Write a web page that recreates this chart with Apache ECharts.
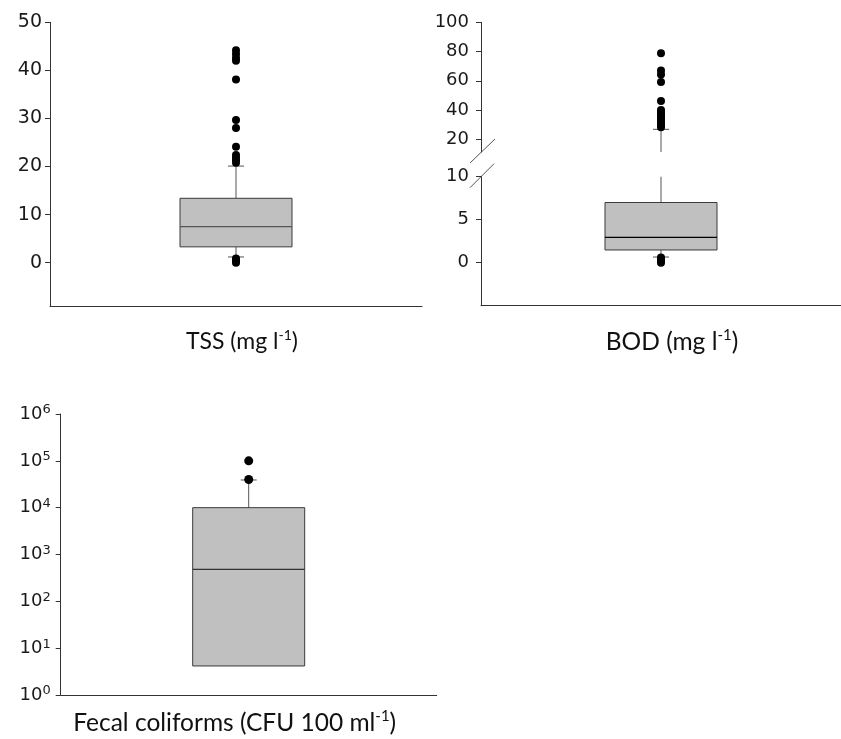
<!DOCTYPE html>
<html>
<head>
<meta charset="utf-8">
<script src="https://cdn.jsdelivr.net/npm/echarts@6/dist/echarts.min.js"></script>
<style>html,body{margin:0;padding:0;background:#fff}#c{width:841px;height:739px}</style>
</head>
<body>
<div id="c"></div>
<script>
// ---- data ----
const tssCategory = ['TSS (mg l-1)'];
const tssStats = [1.2, 3.3, 7.5, 13.4, 20.1];           // [lower whisker, Q1, median, Q3, upper whisker]
const tssOutliers = [44.2, 43.4, 42.6, 42.0, 38.1, 29.7, 28.0, 24.1, 22.4, 21.8, 21.3, 20.8, 0.9, 0.6, 0.3, 0.0];
const tssTicks = [0, 10, 20, 30, 40, 50];

const bodCategory = ['BOD (mg l-1)'];
const bodStats = [0.66, 1.48, 2.95, 7.0, 26.8];
const bodOutliers = [78.9, 67.0, 64.3, 59.2, 46.2, 40.0, 38.5, 37.0, 35.5, 34.0, 32.5, 31.0, 29.5, 28.2, 0.6, 0.4, 0.2, 0.0];
const bodUpperTicks = [20, 40, 60, 80, 100];
const bodLowerTicks = [0, 5, 10];
const bodUpperRange = [11.3, 100];
const bodLowerRange = [-5, 10];

const fcCategory = ['Fecal coliforms (CFU 100 ml-1)'];
const fcStats = [4.17, 4.17, 483, 10000, 39000];
const fcOutliers = [100000, 40000];
const fcTicks = [1, 10, 100, 1000, 10000, 100000, 1000000];

const tssRange = [-9, 50];
const fcRange = [1, 1000000];

// ---- helpers ----
const TICK_FONT = '"DejaVu Sans", "Liberation Sans", Arial, sans-serif';
const NAME_FONT = 'Lato, "Open Sans", sans-serif';

function boxRenderer(stats, yr, opt) {
  return function (params, api) {
    const lo = stats[0], q1 = stats[1], med = stats[2], q3 = stats[3], hi = stats[4];
    const clamp = v => Math.min(Math.max(v, yr[0]), yr[1]);
    const inR = v => v >= yr[0] && v <= yr[1];
    const cx = api.coord([0, clamp(med)])[0];
    const Y = v => api.coord([0, clamp(v)])[1];
    const hw = opt.boxW / 2, cw = opt.capW / 2;
    const ws = { stroke: opt.whisker, lineWidth: 1 };
    const ch = [];
    if (hi > q3 && hi > yr[0] && q3 < yr[1]) {
      ch.push({ type: 'line', shape: { x1: cx, y1: Y(q3), x2: cx, y2: Y(hi) }, style: ws });
      if (inR(hi)) ch.push({ type: 'line', shape: { x1: cx - cw, y1: Y(hi), x2: cx + cw, y2: Y(hi) }, style: ws });
    }
    if (lo < q1 && q1 > yr[0] && lo < yr[1]) {
      ch.push({ type: 'line', shape: { x1: cx, y1: Y(q1), x2: cx, y2: Y(lo) }, style: ws });
      if (inR(lo)) ch.push({ type: 'line', shape: { x1: cx - cw, y1: Y(lo), x2: cx + cw, y2: Y(lo) }, style: ws });
    }
    if (q3 > yr[0] && q1 < yr[1]) {
      const yt = Y(q3), yb = Y(q1);
      ch.push({ type: 'rect', shape: { x: cx - hw, y: yt, width: 2 * hw, height: yb - yt },
        style: { fill: '#c0c0c0', stroke: '#3a3a3a', lineWidth: 1 } });
    }
    if (inR(med)) {
      ch.push({ type: 'line', shape: { x1: cx - hw, y1: Y(med), x2: cx + hw, y2: Y(med) },
        style: { stroke: opt.median, lineWidth: 1.2 } });
    }
    return { type: 'group', children: ch };
  };
}

function nameFmt(s) {
  const m = s.match(/^(.*)-1\)$/);
  return '{n|' + m[1] + '}{s|-1}{n|)}';
}
function nameRich(size) {
  return {
    n: { fontFamily: NAME_FONT, fontSize: size, color: '#111' },
    s: { fontFamily: NAME_FONT, fontSize: Math.round(size * 0.6), color: '#111', verticalAlign: 'top', padding: [0, 0, Math.round(size * 0.55), 0] }
  };
}

function xAxisFor(grid, cat, margin, size, pad, show) {
  return {
    type: 'category', gridIndex: grid, data: cat, show: show !== false,
    boundaryGap: true,
    axisLine: { onZero: false, lineStyle: { color: '#333', width: 1 } },
    axisTick: { alignWithLabel: true, length: 5, lineStyle: { color: '#333' } },
    axisLabel: { formatter: nameFmt, rich: nameRich(size), margin: margin, interval: 0, padding: pad },
    splitLine: { show: false }
  };
}
function yAxisFor(grid, range, ticks, margin, size) {
  return {
    type: 'value', gridIndex: grid, min: range[0], max: range[1],
    axisLine: { show: true, onZero: false, lineStyle: { color: '#333', width: 1 } },
    axisTick: { show: true, length: 5, customValues: ticks, lineStyle: { color: '#333' } },
    axisLabel: { customValues: ticks, margin: margin, fontFamily: TICK_FONT, fontSize: size, color: '#1a1a1a' },
    splitLine: { show: false }
  };
}

const chart = echarts.init(document.getElementById('c'));
const boxOpt = { boxW: 112, capW: 16, whisker: '#555' };
const dotStyle = { color: '#000', opacity: 1 };

const option = {
  animation: false,
  backgroundColor: '#fff',
  grid: [
    { left: 50, top: 22.3, width: 372, height: 283.7 },
    { left: 481, top: 22.3, width: 374, height: 129.7 },
    { left: 481, top: 176.7, width: 374, height: 129 },
    { left: 60.7, top: 414, width: 376, height: 281 }
  ],
  xAxis: [
    xAxisFor(0, tssCategory, 22, 23, [0, 0, 0, 12]),
    xAxisFor(1, bodCategory, 22, 23, [0, 0, 0, 0], false),
    xAxisFor(2, bodCategory, 22, 24.5, [0, 0, 0, 22]),
    xAxisFor(3, fcCategory, 14, 24.5, [0, 28, 0, 0])
  ],
  yAxis: [
    yAxisFor(0, tssRange, tssTicks, 8, 19),
    yAxisFor(1, bodUpperRange, bodUpperTicks, 12, 18),
    yAxisFor(2, bodLowerRange, bodLowerTicks, 12, 18),
    {
      type: 'log', logBase: 10, gridIndex: 3, min: fcRange[0], max: fcRange[1],
      axisLine: { show: true, onZero: false, lineStyle: { color: '#333', width: 1 } },
      axisTick: { show: true, length: 5, customValues: fcTicks, lineStyle: { color: '#333' } },
      axisLabel: {
        customValues: fcTicks, margin: 10,
        formatter: v => '{b|10}{s|' + Math.round(Math.log10(v)) + '}',
        rich: {
          b: { fontFamily: TICK_FONT, fontSize: 18, color: '#1a1a1a' },
          s: { fontFamily: TICK_FONT, fontSize: 13, color: '#1a1a1a', verticalAlign: 'top', padding: [0, 0, 8, 0] }
        }
      },
      splitLine: { show: false }
    }
  ],
  series: [
    { type: 'custom', xAxisIndex: 0, yAxisIndex: 0, data: [[0]], z: 2,
      renderItem: boxRenderer(tssStats, tssRange, Object.assign({}, boxOpt, { median: '#555' })) },
    { type: 'scatter', xAxisIndex: 0, yAxisIndex: 0, symbolSize: 8, z: 3,
      itemStyle: dotStyle, data: tssOutliers.map(v => [0, v]) },

    { type: 'custom', xAxisIndex: 1, yAxisIndex: 1, data: [[0]], z: 2,
      renderItem: boxRenderer(bodStats, bodUpperRange, Object.assign({}, boxOpt, { median: '#000' })) },
    { type: 'custom', xAxisIndex: 2, yAxisIndex: 2, data: [[0]], z: 2,
      renderItem: boxRenderer(bodStats, bodLowerRange, Object.assign({}, boxOpt, { median: '#000' })) },
    { type: 'scatter', xAxisIndex: 1, yAxisIndex: 1, symbolSize: 8, z: 3,
      itemStyle: dotStyle, data: bodOutliers.filter(v => v >= bodUpperRange[0]).map(v => [0, v]) },
    { type: 'scatter', xAxisIndex: 2, yAxisIndex: 2, symbolSize: 8, z: 3,
      itemStyle: dotStyle, data: bodOutliers.filter(v => v <= bodLowerRange[1]).map(v => [0, v]) },

    { type: 'custom', xAxisIndex: 3, yAxisIndex: 3, data: [[0]], z: 2,
      renderItem: boxRenderer(fcStats, fcRange, Object.assign({}, boxOpt, { median: '#333' })) },
    { type: 'scatter', xAxisIndex: 3, yAxisIndex: 3, symbolSize: 9, z: 3,
      itemStyle: dotStyle, data: fcOutliers.map(v => [0, v]) }
  ]
};
chart.setOption(option);

// axis-break slashes on the BOD axis
const gx = 481;
const yUp = chart.convertToPixel({ yAxisIndex: 1 }, bodUpperRange[0]);
const yLo = chart.convertToPixel({ yAxisIndex: 2 }, bodLowerRange[1]);
chart.setOption({
  graphic: [
    { type: 'line', shape: { x1: gx - 11, y1: yUp + 11, x2: gx + 14, y2: yUp - 13 }, style: { stroke: '#555', lineWidth: 1 } },
    { type: 'line', shape: { x1: gx - 11, y1: yLo + 11, x2: gx + 13, y2: yLo - 13 }, style: { stroke: '#555', lineWidth: 1 } }
  ]
});
</script>
</body>
</html>
